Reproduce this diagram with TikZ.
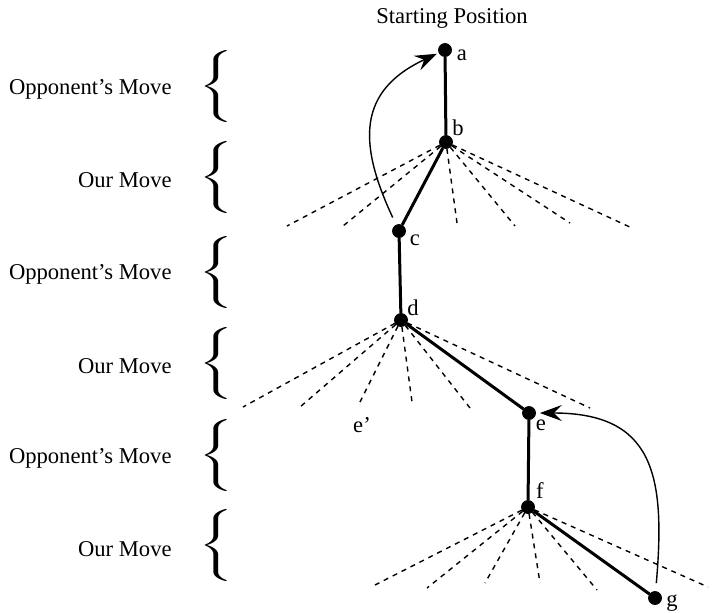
\documentclass[tikz,border=0pt]{standalone}
\usepackage{fontspec}
\setmainfont{Liberation Serif}
\usetikzlibrary{arrows.meta}
\begin{document}
\begin{tikzpicture}[x=0.5pt,y=-0.5pt,font=\fontsize{11.3}{13}\selectfont,
  dot/.style={circle,draw,fill=black,inner sep=0pt,minimum width=6.5pt},
  move/.style={line width=1.5pt},
  other/.style={dash pattern=on 2.5pt off 2.5pt,line width=0.7pt},
  jump/.style={line width=0.7pt,-{Stealth[length=11pt,width=8pt,inset=4pt]}},
  lbl/.style={inner sep=0pt},
  side/.style={anchor=east,inner sep=0pt},
  brc/.style={anchor=west,inner sep=0pt}]
\useasboundingbox (0,0) rectangle (712,612);
\node[lbl] at (452,18) (start) {Starting Position};
\node[dot] at (445,50) (a) {};
\node[dot] at (446,142) (b) {};
\node[dot] at (399,231) (c) {};
\node[dot] at (401,320) (d) {};
\node[dot] at (529,413) (e) {};
\node[dot] at (528,507) (f) {};
\node[dot] at (655,598) (g) {};
\node[lbl] at (462,55) (la) {a};
\node[lbl] at (458,128) (lb) {b};
\node[lbl] at (415,240) (lc) {c};
\node[lbl] at (413,308) (ld) {d};
\node[lbl] at (541,425) (le) {e};
\node[lbl] at (540,491) (lf) {f};
\node[lbl] at (672,603) (lg) {g};
\node[lbl] at (362,425) (le2) {e'};

\node[side] at (172,89) (opp1) {Opponent's Move};
\node[side] at (172,180) (our1) {Our Move};
\node[side] at (172,274) (opp2) {Opponent's Move};
\node[side] at (172,366) (our2) {Our Move};
\node[side] at (172,458) (opp3) {Opponent's Move};
\node[side] at (172,549) (our3) {Our Move};
\node[brc] at (198,86) (br1) {\scalebox{2}[1]{$\left\{\vcenter{\hbox{\rule{0pt}{38pt}}}\right.$}};
\node[brc] at (198,177) (br2) {\scalebox{2}[1]{$\left\{\vcenter{\hbox{\rule{0pt}{38pt}}}\right.$}};
\node[brc] at (198,272) (br3) {\scalebox{2}[1]{$\left\{\vcenter{\hbox{\rule{0pt}{38pt}}}\right.$}};
\node[brc] at (198,363) (br4) {\scalebox{2}[1]{$\left\{\vcenter{\hbox{\rule{0pt}{38pt}}}\right.$}};
\node[brc] at (198,455) (br5) {\scalebox{2}[1]{$\left\{\vcenter{\hbox{\rule{0pt}{38pt}}}\right.$}};
\node[brc] at (198,545) (br6) {\scalebox{2}[1]{$\left\{\vcenter{\hbox{\rule{0pt}{38pt}}}\right.$}};

\coordinate (b1) at (287,226);
\coordinate (b2) at (343,226);
\coordinate (b3) at (457,223);
\coordinate (b4) at (515,226);
\coordinate (b5) at (570,223);
\coordinate (b6) at (632,228);
\coordinate (d1) at (243,407);
\coordinate (d2) at (300,407);
\coordinate (d3) at (360,402);
\coordinate (d4) at (412,402);
\coordinate (d5) at (470,408);
\coordinate (d6) at (590,408);
\coordinate (f1) at (375,585);
\coordinate (f2) at (427,588);
\coordinate (f3) at (485,583);
\coordinate (f4) at (540,583);
\coordinate (f5) at (597,590);
\coordinate (f6) at (708,587);

\draw[other] (b) -- (b1);
\draw[other] (b) -- (b2);
\draw[other] (b) -- (b3);
\draw[other] (b) -- (b4);
\draw[other] (b) -- (b5);
\draw[other] (b) -- (b6);
\draw[other] (d) -- (d1);
\draw[other] (d) -- (d2);
\draw[other] (d) -- (d3);
\draw[other] (d) -- (d4);
\draw[other] (d) -- (d5);
\draw[other] (d) -- (d6);
\draw[other] (f) -- (f1);
\draw[other] (f) -- (f2);
\draw[other] (f) -- (f3);
\draw[other] (f) -- (f4);
\draw[other] (f) -- (f5);
\draw[other] (f) -- (f6);

\draw[move] (a) -- (b);
\draw[move] (b) -- (c);
\draw[move] (c) -- (d);
\draw[move] (d) -- (e);
\draw[move] (e) -- (f);
\draw[move] (f) -- (g);

\draw[jump,shorten <=4pt,shorten >=1pt] (c) to[out=115,in=205,looseness=1.3] (a);
\draw[jump,shorten <=4pt,shorten >=2pt] (g) to[out=85,in=0,looseness=1.4] (e);
\end{tikzpicture}
\end{document}
